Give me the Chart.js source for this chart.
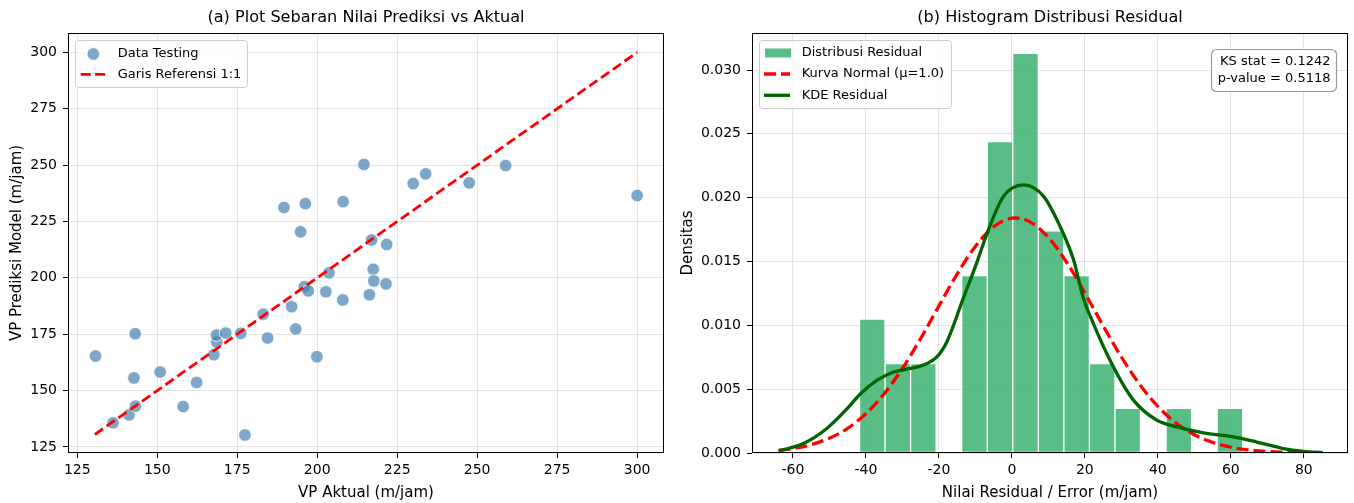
<!DOCTYPE html>
<html>
<head>
<meta charset="utf-8">
<title>Evaluasi Model VP</title>
<script src="https://cdn.jsdelivr.net/npm/chart.js@4.4.0/dist/chart.umd.min.js"></script>
<style>
  html, body { margin: 0; padding: 0; background: #fff; }
  body { width: 1354px; height: 503px; position: relative; overflow: hidden; }
  .panel { position: absolute; top: 0; width: 677px; height: 503px; }
  #left-panel { left: 0; }
  #right-panel { left: 677px; }
</style>
</head>
<body>
<div class="panel" id="left-panel"><canvas id="scatter-chart" width="677" height="503"></canvas></div>
<div class="panel" id="right-panel"><canvas id="hist-chart" width="677" height="503"></canvas></div>
<script>
// (a) sebaran prediksi vs aktual (m/jam)
var actualVP = [130.7, 136.2, 141.2, 143.2, 142.7, 143.1, 150.9, 158.1, 162.3, 167.7,
  168.6, 168.5, 171.4, 176.1, 177.4, 183.1, 184.5, 192.0, 193.3, 196.0,
  197.2, 199.9, 202.7, 203.7, 208.0, 216.3, 217.5, 217.7, 217.0, 221.7,
  221.5, 189.6, 196.3, 194.8, 208.1, 214.6, 230.0, 233.9, 247.5, 258.9, 300.0];
var predictedVP = [165.3, 135.7, 139.2, 143.1, 155.6, 175.2, 158.2, 142.9, 153.6, 165.9,
  171.5, 174.6, 175.5, 175.4, 130.3, 183.9, 173.3, 187.2, 177.3, 196.1,
  194.2, 165.0, 193.8, 202.2, 190.2, 192.5, 203.8, 198.6, 216.8, 214.8,
  197.3, 231.2, 232.9, 220.4, 233.8, 250.3, 241.8, 246.1, 242.1, 249.8, 236.5];
var refLine = [130.5, 300];
var vpTicks = [125, 150, 175, 200, 225, 250, 275, 300];

// (b) histogram residual
var binCenters = [-38.25, -31.25, -24.25, -17.25, -10.25, -3.25, 3.75, 10.75,
  17.75, 24.75, 31.75, 38.75, 45.75, 52.75, 59.75];
var binDensity = [0.0105, 0.0070, 0.0070, 0, 0.0139, 0.0244, 0.0313, 0.0174,
  0.0139, 0.0070, 0.0035, 0, 0.0035, 0, 0.0035];
var normalX = [-63.9, -57, -50, -45, -40, -35, -30, -25, -20, -15, -10, -5, 0, 1, 5, 10,
  15, 20, 25, 30, 35, 40, 45, 50, 55, 60, 65, 70, 75, 80, 85.2];
var normalY = [0.0002, 0.0005, 0.00116, 0.00193, 0.00308, 0.00463, 0.00662, 0.00896,
  0.01151, 0.01402, 0.01618, 0.01772, 0.01839, 0.01841, 0.0181, 0.01689, 0.01494,
  0.01254, 0.00997, 0.00752, 0.00538, 0.00365, 0.00234, 0.00143, 0.00083, 0.00045,
  0.00024, 0.00012, 0.00005, 0.00002, 0.00001];
var kdeX = [-63.9, -57.1, -50.7, -45.2, -41.6, -37.0, -32.4, -28.8, -24.2, -20.5, -17.8,
  -13.3, -10.0, -6.4, -2.3, 3.2, 8.7, 13.2, 16.9, 19.6, 21.5, 27.8, 33.3, 39.7, 45.2,
  52.5, 60.7, 67.1, 74.4, 79.9, 85.2];
var kdeY = [0.00016, 0.00074, 0.00192, 0.00345, 0.0046, 0.00568, 0.00634, 0.00657,
  0.00689, 0.00754, 0.00872, 0.01213, 0.0146, 0.0175, 0.0201, 0.0210, 0.0201, 0.01775,
  0.01513, 0.01213, 0.0107, 0.00675, 0.00414, 0.00257, 0.00204, 0.00157, 0.00126,
  0.00086, 0.00035, 0.00013, 0.00003];
var residualTicks = [-60, -40, -20, 0, 20, 40, 60, 80];
var densityTicks = [0, 0.005, 0.01, 0.015, 0.02, 0.025, 0.03];
var ksText = ["KS stat = 0.1242", "p-value = 0.5118"];

var FONT = "'DejaVu Sans', sans-serif";
var GRID = "rgba(176,176,176,0.35)";
var STEEL = "rgba(70,130,180,0.7)";
var GREEN = "rgba(60,179,113,0.85)";

Chart.defaults.font.family = FONT;
Chart.defaults.color = "#000";

function zip(xs, ys) {
  return xs.map(function (x, i) {
    return { x: x, y: ys[i] };
  });
}

function linearAxis(o) {
  return {
    type: "linear",
    min: o.min,
    max: o.max,
    offset: false,
    afterBuildTicks: function (s) {
      s.ticks = o.ticks.map(function (v) {
        return { value: v };
      });
    },
    afterFit: function (s) {
      if (o.width) s.width = o.width;
      if (o.height) s.height = o.height;
    },
    grid: { color: GRID, lineWidth: 1, offset: false, tickColor: "#000", tickLength: 5, tickWidth: 1 },
    border: { display: false },
    ticks: {
      color: "#000",
      font: { size: 14 },
      padding: o.tickPad,
      autoSkip: false,
      maxRotation: 0,
      callback: o.format || function (v) { return String(v); },
    },
    title: { display: true, text: o.title, color: "#000", font: { size: 15 }, padding: o.titlePad },
  };
}

// frame, title, legend and text box drawn like matplotlib
var decorPlugin = {
  id: "decor",
  afterDatasetsDraw: function (chart, args, opts) {
    var ctx = chart.ctx;
    var a = chart.chartArea;
    ctx.save();
    ctx.strokeStyle = "#000";
    ctx.lineWidth = 1;
    ctx.strokeRect(Math.round(a.left) + 0.5, Math.round(a.top) + 0.5,
      Math.round(a.right - a.left) - 1, Math.round(a.bottom - a.top) - 1);

    ctx.fillStyle = "#000";
    ctx.font = "16.1px " + FONT;
    ctx.textAlign = "center";
    ctx.textBaseline = "middle";
    ctx.fillText(opts.title, (a.left + a.right) / 2, 18);

    var lg = opts.legend;
    ctx.beginPath();
    ctx.roundRect(lg.box[0] + 0.5, lg.box[1] + 0.5, lg.box[2], lg.box[3], 3);
    ctx.fillStyle = "rgba(255,255,255,0.8)";
    ctx.fill();
    ctx.strokeStyle = "#cccccc";
    ctx.stroke();
    lg.items.forEach(function (it) {
      ctx.save();
      if (it.kind === "dot") {
        ctx.beginPath();
        ctx.arc(it.x + 12, it.y, 6.3, 0, Math.PI * 2);
        ctx.fillStyle = STEEL;
        ctx.fill();
        ctx.strokeStyle = "#fff";
        ctx.lineWidth = 0.8;
        ctx.stroke();
      } else if (it.kind === "patch") {
        ctx.fillStyle = GREEN;
        ctx.fillRect(it.x, it.y - 4.5, 26, 9);
      } else {
        ctx.beginPath();
        ctx.moveTo(it.x, it.y);
        ctx.lineTo(it.x + 26, it.y);
        ctx.strokeStyle = it.color;
        ctx.lineWidth = it.width;
        ctx.setLineDash(it.dash || []);
        ctx.stroke();
      }
      ctx.restore();
      ctx.fillStyle = "#000";
      ctx.font = "13px " + FONT;
      ctx.textAlign = "left";
      ctx.textBaseline = "middle";
      ctx.fillText(it.label, lg.textX, it.y);
    });

    if (opts.note) {
      var n = opts.note;
      ctx.beginPath();
      ctx.roundRect(n.box[0] + 0.5, n.box[1] + 0.5, n.box[2], n.box[3], 5);
      ctx.fillStyle = "#fff";
      ctx.fill();
      ctx.strokeStyle = "#999999";
      ctx.lineWidth = 1.2;
      ctx.stroke();
      ctx.fillStyle = "#000";
      ctx.font = "13px " + FONT;
      ctx.textAlign = "right";
      ctx.textBaseline = "middle";
      n.lines.forEach(function (t, i) {
        ctx.fillText(t, n.x, n.y + i * 16.6);
      });
    }
    ctx.restore();
  },
};

function baseOptions(layoutPad) {
  return {
    responsive: false,
    animation: false,
    events: [],
    layout: { padding: layoutPad },
    plugins: { legend: { display: false }, tooltip: { enabled: false }, title: { display: false } },
  };
}

function renderScatter() {
  var canvas = document.getElementById("scatter-chart");
  var opts = baseOptions({ top: 33, right: 13, bottom: 0, left: 0 });
  opts.scales = {
    x: linearAxis({ min: 122.1, max: 308.4, ticks: vpTicks, height: 50, tickPad: 4,
      title: "VP Aktual (m/jam)", titlePad: { top: 0, bottom: 1 } }),
    y: linearAxis({ min: 122.3, max: 308.6, ticks: vpTicks, width: 68, tickPad: 6,
      title: "VP Prediksi Model (m/jam)", titlePad: { top: 8, bottom: 0 } }),
  };
  opts.plugins.decor = {
    title: "(a) Plot Sebaran Nilai Prediksi vs Aktual",
    legend: {
      box: [75, 40, 172, 47],
      textX: 117.7,
      items: [
        { kind: "dot", x: 81.3, y: 54, label: "Data Testing" },
        { kind: "line", x: 80.7, y: 74.3, color: "#ff0000", width: 2.8, dash: [10, 4.4], label: "Garis Referensi 1:1" },
      ],
    },
  };

  new Chart(canvas, {
    type: "scatter",
    data: {
      datasets: [
        {
          label: "Data Testing",
          data: zip(actualVP, predictedVP),
          backgroundColor: STEEL,
          borderColor: "#fff",
          borderWidth: 0.8,
          pointRadius: 6.3,
          order: 2,
        },
        {
          label: "Garis Referensi 1:1",
          data: zip(refLine, refLine),
          showLine: true,
          borderColor: "#ff0000",
          borderWidth: 2.8,
          borderDash: [10, 4.4],
          pointRadius: 0,
          order: 1,
        },
      ],
    },
    options: opts,
    plugins: [decorPlugin],
  });
}

function renderHistogram() {
  var canvas = document.getElementById("hist-chart");
  var opts = baseOptions({ top: 33, right: 6, bottom: 0, left: 0 });
  opts.scales = {
    x: linearAxis({ min: -71.2, max: 92.1, ticks: residualTicks, height: 50, tickPad: 4,
      title: "Nilai Residual / Error (m/jam)", titlePad: { top: 0, bottom: 1 } }),
    y: linearAxis({ min: 0, max: 0.0329, ticks: densityTicks, width: 75, tickPad: 6,
      title: "Densitas", titlePad: { top: 2, bottom: 0 },
      format: function (v) { return v.toFixed(3); } }),
  };
  opts.plugins.decor = {
    title: "(b) Histogram Distribusi Residual",
    legend: {
      box: [82, 40, 192, 68],
      textX: 124.7,
      items: [
        { kind: "patch", x: 88, y: 53, label: "Distribusi Residual" },
        { kind: "line", x: 87, y: 74, color: "#ff0000", width: 3.3, dash: [12, 5], label: "Kurva Normal (\u03bc=1.0)" },
        { kind: "line", x: 87, y: 95.3, color: "#006400", width: 3.3, label: "KDE Residual" },
      ],
    },
    note: { box: [534, 49, 125, 42], x: 653.5, y: 61.7, lines: ksText },
  };

  new Chart(canvas, {
    type: "bar",
    data: {
      datasets: [
        {
          type: "bar",
          label: "Distribusi Residual",
          data: zip(binCenters, binDensity),
          backgroundColor: GREEN,
          borderColor: "#fff",
          borderWidth: 1,
          borderSkipped: false,
          barPercentage: 1,
          categoryPercentage: 1,
          order: 3,
        },
        {
          type: "line",
          label: "Kurva Normal (\u03bc=1.0)",
          data: zip(normalX, normalY),
          borderColor: "#ff0000",
          borderWidth: 3.3,
          borderDash: [12, 5],
          pointRadius: 0,
          cubicInterpolationMode: "monotone",
          fill: false,
          order: 2,
        },
        {
          type: "line",
          label: "KDE Residual",
          data: zip(kdeX, kdeY),
          borderColor: "#006400",
          borderWidth: 3.3,
          pointRadius: 0,
          cubicInterpolationMode: "monotone",
          fill: false,
          order: 1,
        },
      ],
    },
    options: opts,
    plugins: [decorPlugin],
  });
}

renderScatter();
renderHistogram();
</script>
</body>
</html>
